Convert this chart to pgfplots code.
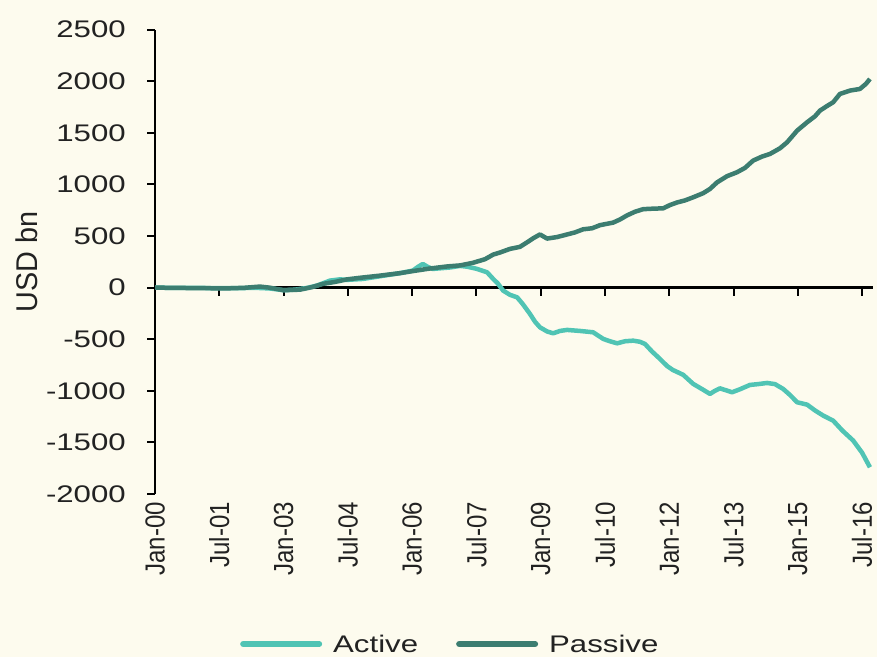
\documentclass[border=0pt]{standalone}
\usepackage{pgfplots}
\pgfplotsset{compat=1.18}
\usepackage{fontspec}
\setmainfont{Liberation Sans}[FakeStretch=1.3]
\newfontfamily\rotfont{Liberation Sans}
\definecolor{bg}{HTML}{FDFBEE}
\definecolor{act}{HTML}{50C4B4}
\definecolor{pas}{HTML}{3C7D70}
\definecolor{txt}{HTML}{222222}
\newcommand\sq[1]{\scalebox{1}[1.15]{\rotfont #1}}
\pgfplotstableread{
m v
0 0
6 -3
12.6 -3
18 -6
23.8 -5
28 -2
32 -8
36 -25
39.2 -20
42.6 -3
45.4 20
49 68
51.8 80
53.8 75
58.2 84
63 110
68.6 140
72.2 165
73.6 200
75 229
76.4 200
77.8 181
82.6 195
85.4 210
87.4 203
90.2 181
93 148
94.7 84
96 40
97.5 -29
99.4 -70
101.4 -94
103 -160
105 -255
106.4 -330
107.8 -385
109.8 -425
111.5 -443
113.4 -420
115.4 -410
119 -420
122.7 -433
125.5 -497
127.4 -520
129.4 -540
131.6 -520
133.9 -514
135.8 -525
137.2 -546
139.2 -620
141.4 -691
143.4 -760
145 -798
147.9 -845
150.7 -933
153.5 -990
155.4 -1030
156.8 -1000
158.2 -976
159.9 -995
161.6 -1014
163.8 -985
166.6 -943
168.9 -935
171.4 -924
173.6 -935
175.9 -982
177.8 -1040
179.8 -1111
182.6 -1134
184.8 -1190
187.1 -1240
189.9 -1289
192.5 -1386
195.5 -1482
198 -1600
200.2 -1741
}\activedata
\pgfplotstableread{
m v
0 0
5.6 -3
12.6 -5
19.6 -8
25 -2
29.4 10
32 0
36 -25
40.6 -20
44 5
47 36
50.4 55
53.8 80
57.4 95
63 116
68.6 140
72.2 160
77 185
81.8 205
85.4 215
89 240
92.4 275
94.7 320
96.6 340
99.4 375
102.2 395
104.2 439
106 480
107.8 515
109.8 475
112.6 490
115.4 515
117.6 535
119.9 565
122.4 575
124.6 605
128.3 630
130.2 660
132.2 700
134.4 735
136.7 760
139.5 765
142.3 768
144.2 800
146.2 825
148.4 845
150.7 875
153.5 915
155.4 956
157.4 1020
160.2 1080
163 1118
165.2 1160
167.5 1231
170 1270
172.2 1295
175 1350
177 1408
179.8 1521
182.6 1602
184.8 1660
186.2 1715
188.2 1760
189.9 1796
191.8 1877
194.6 1909
197.4 1925
199.1 1975
200.2 2022
}\passivedata
\begin{document}
\begin{tikzpicture}
\fill[bg] (0,0) rectangle (877pt,657pt);
\pgfplotsset{common/.style={scale only axis, width=717.8pt, height=464.4pt,
  xmin=0, xmax=201, ymin=-2000, ymax=2500, at={(155pt,163pt)}, anchor=south west}}
\begin{axis}[common, axis y line=none, axis x line=middle,
  axis line style={-, line width=2.5pt, black},
  xtick={0,18,...,198}, xticklabels={}, ytick=\empty,
  tick align=outside, major tick length=8pt, xtick style={line width=2pt, black}]
\end{axis}
\begin{axis}[common, axis x line=bottom, axis y line=left, axis line style={-},
  x axis line style={draw=none}, y axis line style={line width=2.5pt, black},
  xtick={0,18,...,198},
  xticklabels={\sq{Jan-00},\sq{Jul-01},\sq{Jan-03},\sq{Jul-04},\sq{Jan-06},\sq{Jul-07},\sq{Jan-09},\sq{Jul-10},\sq{Jan-12},\sq{Jul-13},\sq{Jan-15},\sq{Jul-16}},
  x tick style={draw=none},
  ytick={-2000,-1500,...,2500}, y tick style={line width=2pt, black},
  tick align=outside, major tick length=8pt,
  ticklabel style={font=\fontsize{24}{28}\selectfont, text=txt},
  /pgf/number format/assume math mode=true,
  /pgf/number format/set thousands separator={},
  xticklabel style={rotate=90, anchor=east, inner sep=0pt},
  yticklabel style={anchor=east, inner sep=0pt, xshift=-21pt},
  ylabel={\scalebox{1.2}[1.25]{\rotfont USD bn}},
  ylabel style={at={(axis description cs:-0.1783,0.5)}, anchor=center, font=\fontsize{24}{28}\selectfont, text=txt},
  legend columns=2,
  legend style={at={(axis description cs:0.1184,-0.3230)}, anchor=west, draw=none, fill=none,
    inner xsep=0pt, inner ysep=0pt, nodes={inner sep=0pt, text depth=0pt}, cells={anchor=west},
    font=\fontsize{24}{28}\selectfont, text=txt,
    /tikz/every even column/.append style={column sep=38pt}},
  legend image code/.code={\path[draw=none, fill=none] (0pt,-1pt) rectangle (93pt,1pt); \draw[#1, line width=6pt, line cap=round] (3pt,0pt) -- (79pt,0pt);},
]
\addplot[act, line width=4.5pt, line join=round] table[x=m, y=v] {\activedata};
\addlegendentry{Active}
\addplot[pas, line width=4.5pt, line join=round] table[x=m, y=v] {\passivedata};
\addlegendentry{Passive}
\end{axis}
\end{tikzpicture}
\end{document}
